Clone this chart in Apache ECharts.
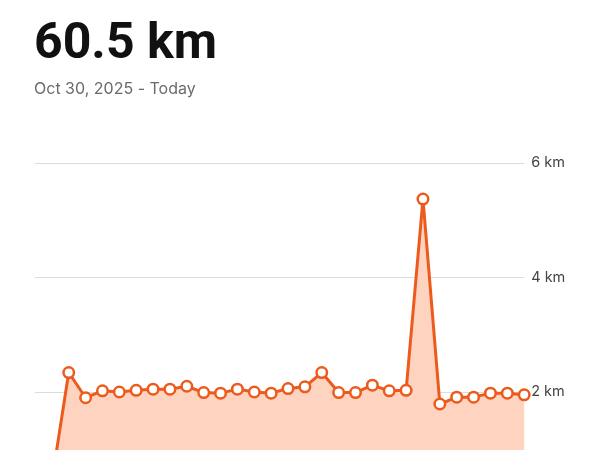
<!DOCTYPE html>
<html>
<head>
<meta charset="utf-8">
<script src="https://cdn.jsdelivr.net/npm/echarts@6/dist/echarts.min.js"></script>
<style>
html,body{margin:0;padding:0;background:#fff;overflow:hidden;width:600px;height:450px;}
#chart{width:600px;height:540px;}
</style>
</head>
<body>
<div id="chart"></div>
<script>
const titleText = "60.5 km";
const subtitleText = "Oct 30, 2025 - Today";
const days = ["Oct 30","Oct 31","Nov 1","Nov 2","Nov 3","Nov 4","Nov 5","Nov 6","Nov 7","Nov 8",
  "Nov 9","Nov 10","Nov 11","Nov 12","Nov 13","Nov 14","Nov 15","Nov 16","Nov 17","Nov 18",
  "Nov 19","Nov 20","Nov 21","Nov 22","Nov 23","Nov 24","Nov 25","Nov 26","Nov 27","Nov 28"];
const distanceKm = [0, 0.45, 2.34, 1.90, 2.02, 2.00, 2.03, 2.05, 2.05, 2.10,
  1.99, 1.98, 2.05, 2.00, 1.98, 2.06, 2.09, 2.34, 1.99, 1.99,
  2.12, 2.02, 2.03, 5.37, 1.79, 1.91, 1.91, 1.98, 1.98, 1.95];
const yTicks = [0, 2, 4, 6];

const chart = echarts.init(document.getElementById('chart'), null, {renderer: 'canvas'});
chart.setOption({
  animation: false,
  backgroundColor: '#fff',
  title: {
    text: titleText,
    subtext: subtitleText,
    left: 29,
    top: 15,
    itemGap: 11,
    textStyle: {fontFamily: 'Roboto', fontSize: 50, fontWeight: 'bold', color: '#111'},
    subtextStyle: {fontFamily: 'Inter', fontSize: 16, color: '#6b6b6b'}
  },
  grid: {left: 35, right: 75.8, top: 163, bottom: 33.5, containLabel: false},
  xAxis: {
    type: 'category',
    data: days,
    boundaryGap: false,
    axisLine: {show: false},
    axisTick: {show: false},
    axisLabel: {show: false},
    splitLine: {show: false}
  },
  yAxis: {
    type: 'value',
    position: 'right',
    min: yTicks[0],
    max: yTicks[yTicks.length - 1],
    interval: 2,
    axisLine: {show: false},
    axisTick: {show: false},
    axisLabel: {
      margin: 7,
      formatter: '{value} km',
      fontFamily: 'Inter',
      fontSize: 14.5,
      color: '#444'
    },
    splitLine: {lineStyle: {color: '#dcdcdc', width: 1}}
  },
  series: [{
    type: 'line',
    data: distanceKm,
    symbol: 'circle',
    symbolSize: 10.5,
    showAllSymbol: true,
    itemStyle: {color: '#ffffff', borderColor: '#ec5a1c', borderWidth: 2.5},
    lineStyle: {color: '#ec5a1c', width: 3},
    areaStyle: {color: '#fed3bf', opacity: 1}
  }]
});
</script>
</body>
</html>
